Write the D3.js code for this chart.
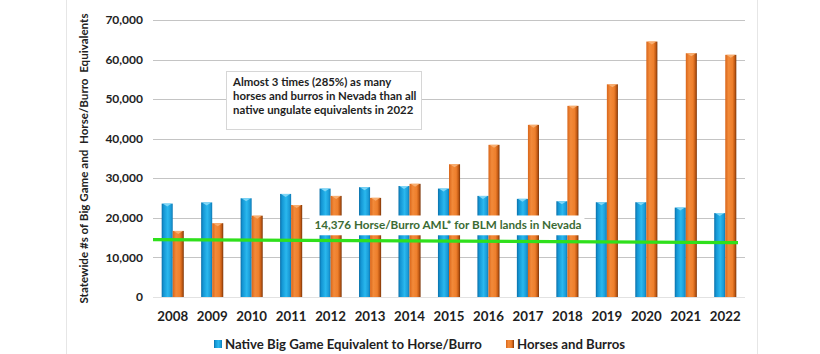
<!DOCTYPE html>
<html>
<head>
<meta charset="utf-8">
<script src="https://cdn.jsdelivr.net/npm/d3@7"></script>
<style>
  html, body { margin: 0; padding: 0; background: #fff; }
  svg { display: block; font-family: Lato, "Open Sans", sans-serif; font-weight: bold; }
</style>
</head>
<body>
<div id="chart"></div>
<script>
const years = ["2008", "2009", "2010", "2011", "2012", "2013", "2014", "2015",
  "2016", "2017", "2018", "2019", "2020", "2021", "2022"];
const nativeValues = [23600, 23900, 24950, 26050, 27400, 27750, 28050, 27400,
  25550, 24800, 24200, 23950, 23950, 22600, 21200];
const horseValues = [16700, 18650, 20550, 23250, 25550, 25050, 28600, 33550,
  38450, 43500, 48300, 53750, 64550, 61600, 61200];
const yTicks = [0, 10000, 20000, 30000, 40000, 50000, 60000, 70000];
const seriesNames = ["Native Big Game Equivalent to Horse/Burro", "Horses and Burros"];
const amlLevel = [14500, 13750]; // line drawn slightly tilted in the source
const amlLabel = "14,376 Horse/Burro AML* for BLM lands in Nevada";
const noteLines = ["Almost 3 times (285%) as many", "horses and burros in Nevada than all",
  "native ungulate equivalents in 2022"];
const yTitle = "Statewide #s of Big Game and  Horse/Burro  Equivalents";

const width = 820, height = 354;
const margin = { top: 20, right: 75, bottom: 57, left: 153 };

const svg = d3.select("#chart").append("svg").attr("width", width).attr("height", height);
const defs = svg.append("defs");

const blueGrad = defs.append("linearGradient").attr("id", "gBlue");
[["0%", "#0a6fa8"], ["18%", "#1496d4"], ["55%", "#2ab8ee"], ["85%", "#1a9ad6"], ["100%", "#0c78b4"]]
  .forEach(([o, c]) => blueGrad.append("stop").attr("offset", o).attr("stop-color", c));
const orangeGrad = defs.append("linearGradient").attr("id", "gOrange");
[["0%", "#d9661a"], ["30%", "#f28a3a"], ["65%", "#ee7f2c"], ["85%", "#c25a14"], ["100%", "#7a3408"]]
  .forEach(([o, c]) => orangeGrad.append("stop").attr("offset", o).attr("stop-color", c));
const fills = ["url(#gBlue)", "url(#gOrange)"];
const capColors = ["#7fd6f6", "#f8ae70"];

// frame lines
svg.append("line").attr("x1", 66.5).attr("x2", 66.5).attr("y1", 0).attr("y2", height).attr("stroke", "#e6e6e6");
svg.append("line").attr("x1", 757.5).attr("x2", 757.5).attr("y1", 0).attr("y2", height).attr("stroke", "#e6e6e6");

const x = d3.scaleBand().domain(years).range([margin.left, 745]).paddingInner(0.44).paddingOuter(0.22);
const xs = d3.scaleBand().domain([0, 1]).range([0, x.bandwidth()]);
const y = d3.scaleLinear().domain([0, 70000]).range([297, margin.top]);

// grid
svg.append("g").selectAll("line").data(yTicks).join("line")
  .attr("x1", margin.left).attr("x2", 745)
  .attr("y1", (d) => Math.round(y(d)) + 0.5).attr("y2", (d) => Math.round(y(d)) + 0.5)
  .attr("stroke", (d) => d === 0 ? "#e2e2e2" : "#c4c4c4").attr("stroke-width", 1.2);

// y tick labels
svg.append("g").selectAll("text").data(yTicks).join("text")
  .attr("x", 143).attr("y", (d) => y(d)).attr("dy", "0.35em").attr("text-anchor", "end")
  .attr("font-size", 12).attr("fill", "#222").text((d) => d3.format(",")(d));

// y title
svg.append("text").attr("transform", `translate(88,${(20 + 297) / 2}) rotate(-90)`)
  .attr("text-anchor", "middle").attr("font-size", 11.6).attr("fill", "#222")
  .attr("xml:space", "preserve").text(yTitle);

// bars
const rows = years.map((yr, i) => ({ year: yr, values: [nativeValues[i], horseValues[i]] }));
const groups = svg.append("g").selectAll("g").data(rows).join("g")
  .attr("transform", (d) => `translate(${x(d.year)},0)`);
groups.selectAll("rect.bar").data((d) => d.values.map((v, s) => ({ v, s }))).join("rect")
  .attr("class", "bar")
  .attr("x", (d) => xs(d.s)).attr("width", xs.bandwidth())
  .attr("y", (d) => y(d.v)).attr("height", (d) => y(0) - y(d.v))
  .attr("fill", (d) => fills[d.s]);
groups.selectAll("path.cap").data((d) => d.values.map((v, s) => ({ v, s }))).join("path")
  .attr("class", "cap")
  .attr("d", (d) => {
    const x0 = xs(d.s), w = xs.bandwidth(), t = y(d.v);
    return `M${x0 + 1},${t}L${x0 + w - 1},${t}L${x0 + w / 2},${t + 3}Z`;
  })
  .attr("fill", (d) => capColors[d.s]);

// AML label box and line
const labelBox = svg.append("g");
labelBox.append("rect").attr("x", x("2012") - 10).attr("width", x("2018") + x.bandwidth() + 6 - (x("2012") - 10))
  .attr("y", y(20600)).attr("height", y(15600) - y(20600)).attr("fill", "#fff");
labelBox.append("text").attr("x", (x("2012") + x("2018") + x.bandwidth()) / 2 - 1).attr("y", y(18100))
  .attr("dy", "0.35em").attr("text-anchor", "middle").attr("font-size", 11.7).attr("fill", "#3b6b34")
  .text(amlLabel);
svg.append("line").attr("x1", margin.left).attr("x2", 738)
  .attr("y1", y(amlLevel[0])).attr("y2", y(amlLevel[1]))
  .attr("stroke", "#2fe01c").attr("stroke-width", 3.2);

// annotation
const note = svg.append("g");
note.append("rect").attr("x", 226.5).attr("y", 71.5).attr("width", 195).attr("height", 58)
  .attr("fill", "#fff").attr("stroke", "#d6d6d6");
note.selectAll("text").data(noteLines).join("text")
  .attr("x", 233).attr("y", (d, i) => 82 + i * 14).attr("dy", "0.35em")
  .attr("font-size", 11.4).attr("fill", "#1e1e1e").text((d) => d);

// x axis labels
svg.append("g").selectAll("text").data(years).join("text")
  .attr("x", (d) => x(d) + x.bandwidth() / 2).attr("y", 316).attr("dy", "0.35em")
  .attr("text-anchor", "middle").attr("font-size", 13.3).attr("fill", "#1e1e1e").text((d) => d);

// legend
const legendX = [214, 506];
const legend = svg.append("g").selectAll("g").data(seriesNames).join("g")
  .attr("transform", (d, i) => `translate(${legendX[i]},344)`);
legend.append("rect").attr("x", 0).attr("y", -4).attr("width", 8).attr("height", 8)
  .attr("fill", (d, i) => fills[i]);
legend.append("text").attr("x", 11).attr("dy", "0.35em").attr("font-size", 13.2)
  .attr("fill", "#1e1e1e").text((d) => d);
</script>
</body>
</html>
